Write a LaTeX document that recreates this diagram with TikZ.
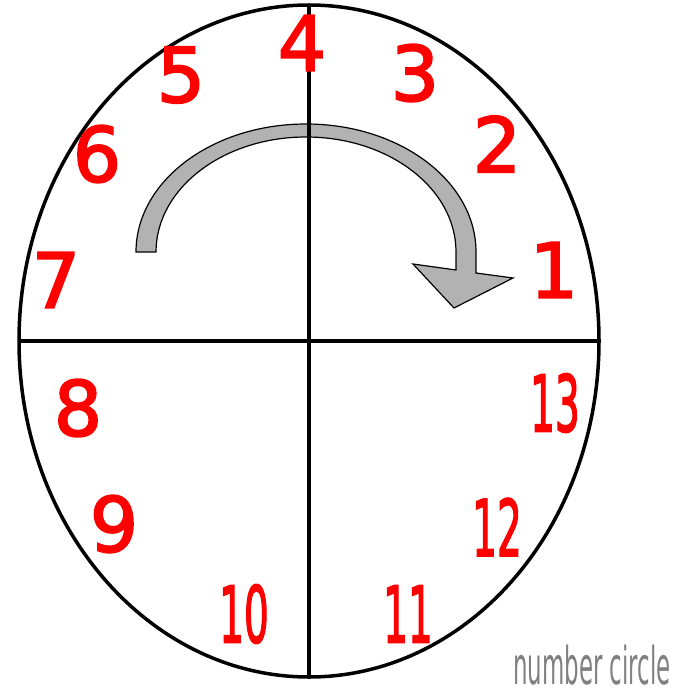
\documentclass[tikz,border=0pt]{standalone}
\usepackage{fontspec}
\setmainfont{DejaVu Sans}
\newfontfamily\numfont[FakeBold=2.5]{DejaVu Sans}
\usepackage{xcolor}
\usepackage{tikz}
\usetikzlibrary{shapes.geometric}

\definecolor{numred}{RGB}{255,0,0}
\definecolor{arrowgray}{RGB}{178,178,178}
\definecolor{titlegray}{RGB}{128,128,128}

\begin{document}
\begin{tikzpicture}[
    x=1pt, y=-1pt,
    face/.style={ellipse, draw=black, line width=3.5pt, inner sep=0pt, outer sep=0pt, minimum width=580pt, minimum height=672pt},
    divider/.style={draw=black, line width=3.5pt},
    digit/.style={text=numred, inner sep=0pt, font=\fontsize{76}{76}\numfont},
    narrowdigit/.style={text=numred, inner sep=0pt, xscale=0.5, font=\fontsize{78}{78}\numfont},
    turnarrow/.style={fill=arrowgray, draw=black, line width=1.2pt, line join=miter},
    caption/.style={text=titlegray, inner sep=0pt, xscale=0.44, font=\fontsize{52}{52}\selectfont}
]
\useasboundingbox (0,0) rectangle (687,695);

% Turning arrow
\draw[turnarrow] (136,252) arc[start angle=180, end angle=360, x radius=170, y radius=128]
    -- (476,273) -- (513,278) -- (454,308) -- (413,264) -- (456,270) -- (456,252)
    arc[start angle=360, end angle=180, x radius=150, y radius=115] -- cycle;

% Face and quarters
\node[face] (clock) at (309,341) {};
\draw[divider] (clock.north) -- (clock.south);
\draw[divider] (clock.west) -- (clock.east);

% Upper half
\node[digit] (n1) at (554,270) {1};
\node[digit] (n2) at (497,144) {2};
\node[digit] (n3) at (415,73) {3};
\node[digit] (n4) at (302,43) {4};
\node[digit] (n5) at (181,75) {5};
\node[digit] (n6) at (97,154) {6};
\node[digit] (n7) at (56,280) {7};

% Lower half
\node[digit] (n8) at (78,408) {8};
\node[digit] (n9) at (114,524) {9};
\node[narrowdigit] (n10) at (244,614) {10};
\node[narrowdigit] (n11) at (408,614) {11};
\node[narrowdigit] (n12) at (497,527) {12};
\node[narrowdigit] (n13) at (555,403) {13};

\node[caption, anchor=base] (title) at (592,684) {number circle};

\end{tikzpicture}
\end{document}
